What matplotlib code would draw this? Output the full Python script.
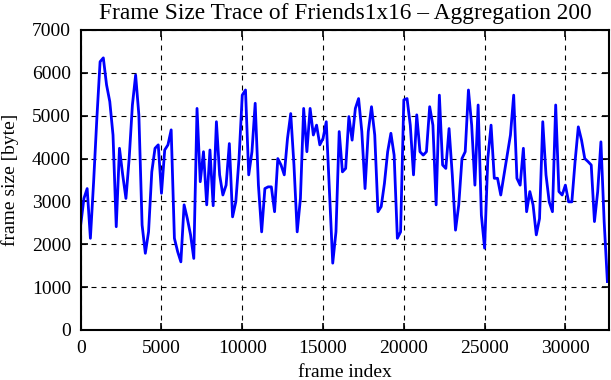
#!/usr/bin/env python3
"""Frame size trace of Friends 1x16, aggregated over 200 frames."""
import matplotlib

matplotlib.use("Agg")
import matplotlib.pyplot as plt
import numpy as np

AGGREGATION = 200

# mean frame size per aggregation window [byte]
frame_sizes = [
    2450, 3070, 3300, 2140, 3460, 4940, 6260, 6350, 5720, 5330,
    4550, 2410, 4240, 3620, 3070, 4000, 5250, 5950, 5020, 2450,
    1790, 2290, 3690, 4240, 4320, 3190, 4200, 4320, 4670, 2140,
    1830, 1590, 2920, 2600, 2220, 1670, 5170, 3460, 4160, 2920,
    4200, 2900, 4860, 3620, 3150, 3380, 4350, 2640, 2990, 4000,
    5480, 5600, 3620, 4160, 5290, 3380, 2290, 3300, 3340, 3340,
    2760, 4000, 3850, 3620, 4470, 5050, 3850, 2290, 3070, 5170,
    4160, 5170, 4550, 4780, 4320, 4470, 4860, 3230, 1560, 2290,
    4630, 3690, 3770, 4980, 4430, 5170, 5400, 4630, 3300, 4630,
    5210, 4550, 2760, 2880, 3420, 4160, 4590, 4080, 2140, 2290,
    5370, 5400, 4780, 3620, 5020, 4160, 4080, 4160, 5210, 4780,
    2920, 5480, 3850, 3770, 4700, 3620, 2330, 2920, 4000, 4160,
    5600, 4780, 3380, 5250, 2680, 1910, 4000, 4780, 3540, 3540,
    3150, 3620, 4080, 4550, 5480, 3540, 3380, 4240, 2760, 3230,
    2920, 2220, 2600, 4860, 3620, 2990, 2760, 5250, 3230, 3150,
    3380, 2990, 2990, 3930, 4740, 4430, 4000, 3930, 3850, 2530,
    3230, 4390, 2530, 1130,
]
frame_index = np.arange(len(frame_sizes)) * AGGREGATION

x_ticks = [0, 5000, 10000, 15000, 20000, 25000, 30000]
y_ticks = [0, 1000, 2000, 3000, 4000, 5000, 6000, 7000]

plt.rcParams["font.family"] = ["Liberation Serif", "DejaVu Serif"]
plt.rcParams["font.size"] = 14

fig = plt.figure(figsize=(6.11, 3.80), dpi=100)
ax = fig.add_axes([80.7 / 611, 1 - 330 / 380, (609 - 80.7) / 611, 300 / 380])

ax.plot(frame_index, frame_sizes, color="#0000ff", linewidth=2.0)

ax.set_xlim(0, 32700)
ax.set_ylim(0, 7000)
ax.set_xticks(x_ticks)
ax.set_yticks(y_ticks)
ax.tick_params(direction="in", length=5, width=1.2, top=True, right=True)
ax.tick_params(axis="x", pad=7)
ax.tick_params(axis="y", pad=7)
ax.grid(True, color="black", linewidth=0.8, linestyle=(0, (4.5, 4.5)))
for spine in ax.spines.values():
    spine.set_linewidth(1.5)

ax.set_xlabel("frame index", labelpad=5)
ax.set_ylabel("frame size [byte]", labelpad=9)
ax.set_title("Frame Size Trace of Friends1x16 \u2013 Aggregation 200", pad=8)

fig.savefig("out.png", dpi=100)
